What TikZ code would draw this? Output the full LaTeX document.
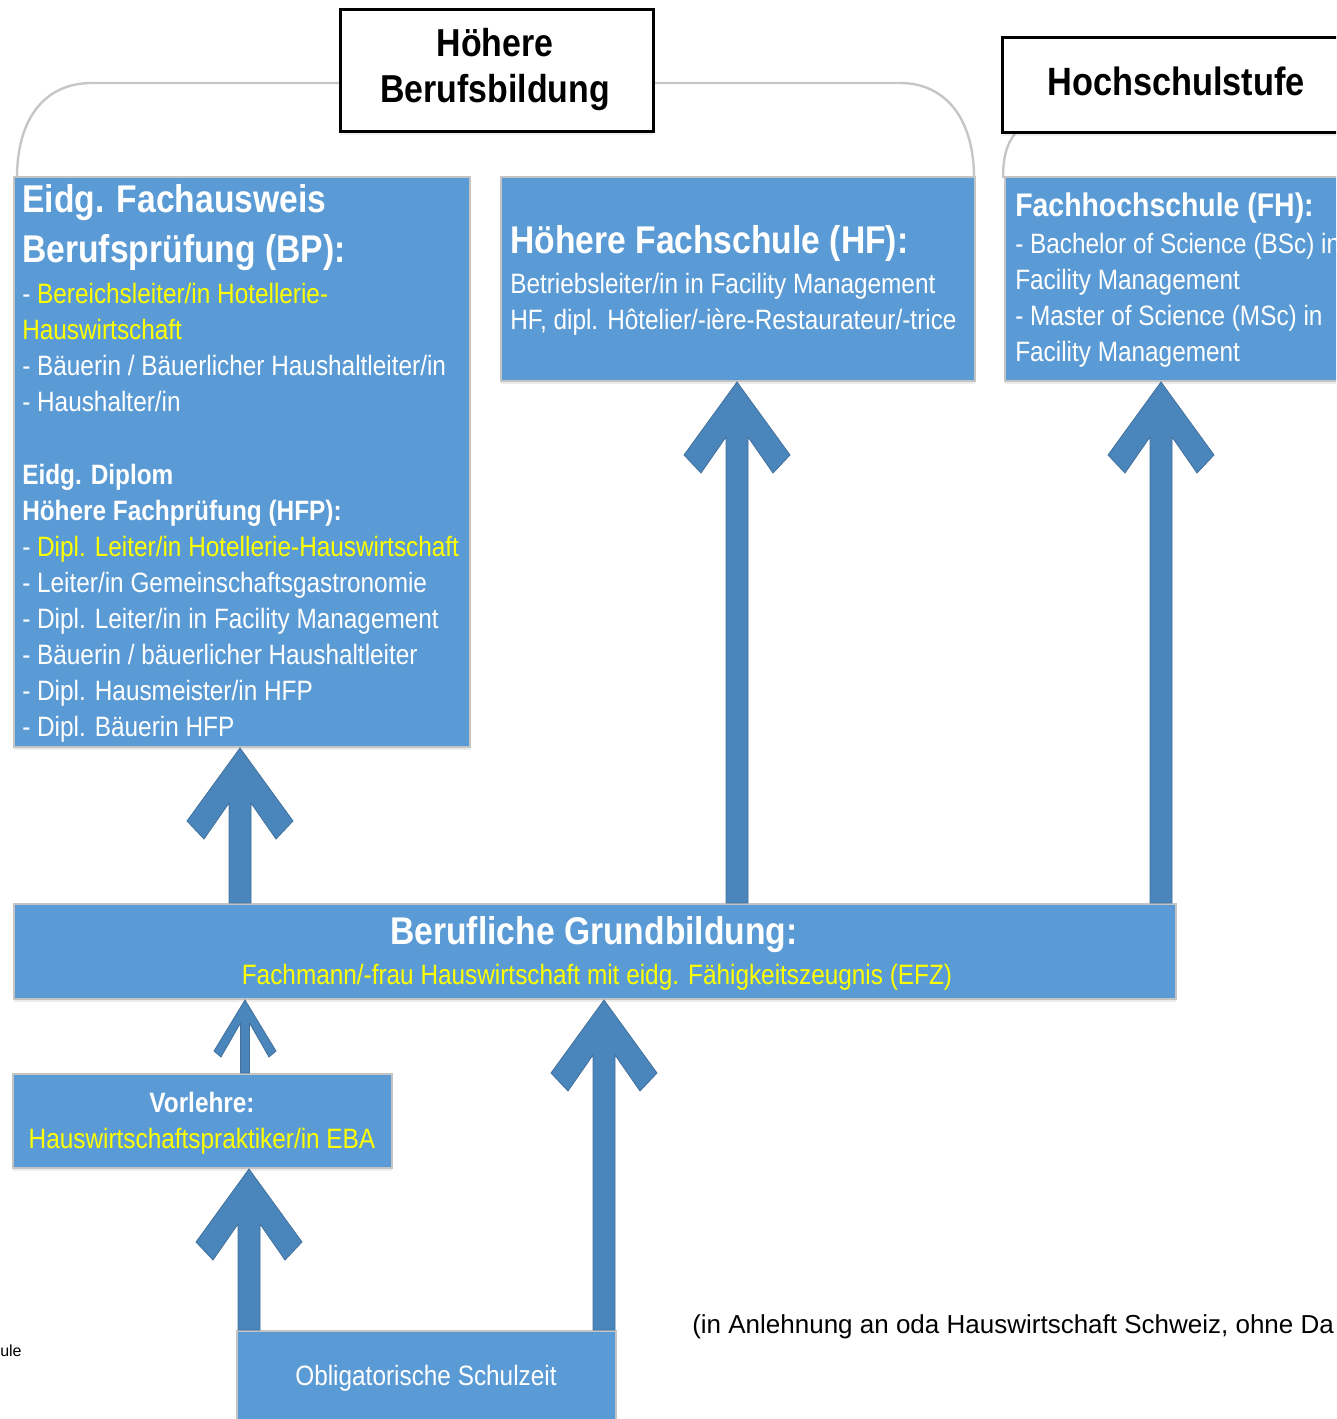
\documentclass[tikz,border=0pt]{standalone}
\usepackage{fontspec}
\setmainfont[FakeStretch=0.87]{Liberation Sans}
\newfontfamily\plainsans{Liberation Sans}
\usepackage{xcolor}
\usepackage{tikz}
\usetikzlibrary{calc, positioning, shadows}
\definecolor{boxblue}{HTML}{5B9BD5}
\definecolor{arrowblue}{HTML}{4A85BB}
\definecolor{arrowline}{HTML}{41719C}
\definecolor{boxline}{HTML}{C4C4C4}
\definecolor{bracegray}{HTML}{C6C6C6}
\definecolor{hilite}{HTML}{FFFF00}

\newcommand{\px}{0.75pt}
\newcommand{\lefttext}[1]{\begin{tabular}[t]{@{}l@{}}#1\end{tabular}}
\newcommand{\midtext}[1]{\begin{tabular}[t]{@{}c@{}}#1\end{tabular}}
\newcommand{\stagearrow}[2]{%
  \draw[arrowbody] let \p1=(#1), \p2=(#2) in
    (\p1) -- ++(53,73) -- ++(-17,18) -- ++(-25,-36) -- (\x1+8.25pt,\y2)
    -- (\x1-8.25pt,\y2) -- (\x1-8.25pt,\y1-41.25pt) -- ++(-25,36) -- ++(-17,-18) -- cycle;}
\newcommand{\stagearrowsmall}[2]{%
  \draw[arrowbody] let \p1=(#1), \p2=(#2) in
    (\p1) -- ++(31,51) -- ++(-7,6) -- ++(-19.5,-34) -- (\x1+3.375pt,\y2)
    -- (\x1-3.375pt,\y2) -- (\x1-3.375pt,\y1-17.25pt) -- ++(-19.5,34) -- ++(-7,-6) -- cycle;}

\tikzset{
  stage/.style={rectangle, draw=boxline, line width=1.5pt, fill=boxblue, anchor=north west, inner sep=0pt,
    drop shadow={shadow xshift=0pt, shadow yshift=-2.5pt, opacity=0.15}},
  level/.style={rectangle, draw=black, line width=2.2pt, fill=white, anchor=north west, inner sep=0pt,
    drop shadow={shadow xshift=0pt, shadow yshift=-3pt, opacity=0.12}},
  brace/.style={draw=bracegray, line width=1.8pt},
  arrowbody/.style={fill=arrowblue, draw=arrowline, line width=0.6pt},
  headtext/.style={text=white, inner sep=0pt, font=\bfseries\fontsize{29}{37.5}\selectfont},
  listtext/.style={text=white, inner sep=0pt, font=\fontsize{21}{27}\selectfont},
}

\begin{document}
\begin{tikzpicture}[x=0.75pt, y=-0.75pt]
\clip (0,0) rectangle (1336,1419);

% brackets over the levels
\draw[brace] (17,178) .. controls (17,118) and (45,83) .. (92,83) -- (345,83);
\draw[brace] (645,83) -- (900,83) .. controls (945,83) and (974,118) .. (974,178);
\draw[brace] (1003,178) .. controls (1003,152) and (1009,140) .. (1018,130);

% level titles
\node[level, minimum width=313*\px, minimum height=122*\px] (hbb) at (339,8) {};
\node[level, minimum width=350*\px, minimum height=95*\px] (hs) at (1001,36) {};
\node[inner sep=0pt, anchor=base, font=\bfseries\fontsize{29.2}{34.5}\selectfont] (hbb-text) at (495,57)
  {\midtext{Höhere\\Berufsbildung}};
\node[inner sep=0pt, anchor=base, font=\bfseries\fontsize{29.6}{36}\selectfont] (hs-text) at (1176,96) {Hochschulstufe};

% boxes
\node[stage, minimum width=456*\px, minimum height=570*\px] (bp) at (13,176) {};
\node[stage, minimum width=474*\px, minimum height=204*\px] (hf) at (500,176) {};
\node[stage, minimum width=400*\px, minimum height=204*\px] (fh) at (1004,176) {};
\node[stage, minimum width=1162*\px, minimum height=95*\px] (grund) at (13,903) {};
\node[stage, minimum width=379*\px, minimum height=94*\px] (vor) at (12,1073) {};
\node[stage, minimum width=379*\px, minimum height=100*\px] (obl) at (236,1330) {};

% texts
\node[headtext, anchor=base west] (bp-head) at (22,213) {\lefttext{Eidg. Fachausweis\\Berufsprüfung (BP):}};
\node[listtext, anchor=base west] (bp-list) at (22,304) {\lefttext{%
  - {\color{hilite}Bereichsleiter/in Hotellerie-}\\
  {\color{hilite}Hauswirtschaft}\\
  - Bäuerin / Bäuerlicher Haushaltleiter/in\\
  - Haushalter/in\\
  \\
  \textbf{Eidg. Diplom}\\
  \textbf{Höhere Fachprüfung (HFP):}\\
  - {\color{hilite}Dipl. Leiter/in Hotellerie-Hauswirtschaft}\\
  - Leiter/in Gemeinschaftsgastronomie\\
  - Dipl. Leiter/in in Facility Management\\
  - Bäuerin / bäuerlicher Haushaltleiter\\
  - Dipl. Hausmeister/in HFP\\
  - Dipl. Bäuerin HFP}};

\node[headtext, anchor=base west] (hf-head) at (510,254) {Höhere Fachschule (HF):};
\node[listtext, anchor=base west] (hf-list) at (510,294) {\lefttext{%
  Betriebsleiter/in in Facility Management\\
  HF, dipl. Hôtelier/-ière-Restaurateur/-trice}};

\node[headtext, anchor=base west, font=\bfseries\fontsize{24.5}{30}\selectfont] (fh-head) at (1015,217) {Fachhochschule (FH):};
\node[listtext, anchor=base west] (fh-list) at (1015,254) {\lefttext{%
  - Bachelor of Science (BSc) in\\
  Facility Management\\
  - Master of Science (MSc) in\\
  Facility Management}};

\node[headtext, anchor=base] (grund-head) at (594,944) {Berufliche Grundbildung:};
\node[listtext, anchor=base, text=hilite] (grund-list) at (597,984) {Fachmann/-frau Hauswirtschaft mit eidg. Fähigkeitszeugnis (EFZ)};

\node[listtext, anchor=base] (vor-text) at (202,1112) {\midtext{\textbf{Vorlehre:}\\
  {\color{hilite}Hauswirtschaftspraktiker/in EBA}}};

\node[listtext, anchor=base] (obl-text) at (426,1385) {Obligatorische Schulzeit};

\node[inner sep=0pt, anchor=base west, font=\plainsans\fontsize{19.5}{23}\selectfont] (source) at (692,1333)
  {(in Anlehnung an oda Hauswirtschaft Schweiz, ohne Da};
\node[inner sep=0pt, anchor=base west, font=\plainsans\fontsize{12}{14}\selectfont] (cutoff) at (0,1356) {ule};

% arrows
\coordinate (a1) at (240,0);
\coordinate (a2) at (737,0);
\coordinate (a3) at (1161,0);
\coordinate (a4) at (245,0);
\coordinate (a5) at (249,0);
\coordinate (a6) at (604,0);
\stagearrow{bp.south -| a1}{grund.north -| a1}
\stagearrow{hf.south -| a2}{grund.north -| a2}
\stagearrow{fh.south -| a3}{grund.north -| a3}
\stagearrowsmall{grund.south -| a4}{vor.north -| a4}
\stagearrow{vor.south -| a5}{obl.north -| a5}
\stagearrow{grund.south -| a6}{obl.north -| a6}
\end{tikzpicture}
\end{document}
